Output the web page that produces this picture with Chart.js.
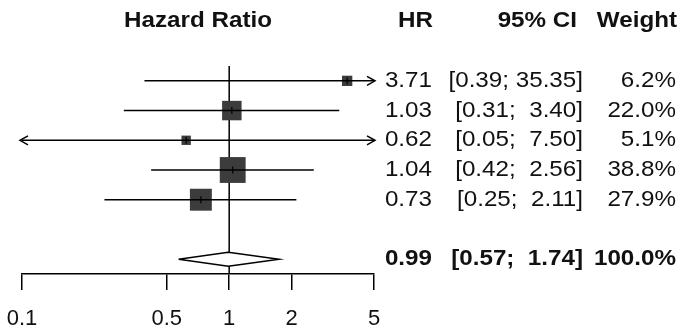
<!DOCTYPE html>
<html><head><meta charset="utf-8">
<script src="https://cdn.jsdelivr.net/npm/chart.js@4/dist/chart.umd.min.js"></script>
<style>html,body{margin:0;padding:0;background:#fff}#wrap{width:682px;height:329px}</style>
</head><body><div id="wrap"><canvas id="c" width="682" height="329"></canvas></div>
<script>
// ---- data ----
const rows = [1, 2, 3, 4, 5];
const hr = [3.71, 1.03, 0.62, 1.04, 0.73];
const ciLow = [0.39, 0.31, 0.05, 0.42, 0.25];
const ciHigh = [35.35, 3.40, 7.50, 2.56, 2.11];
const weights = [6.2, 22.0, 5.1, 38.8, 27.9];
const hrLabels = ['3.71', '1.03', '0.62', '1.04', '0.73'];
const ciLabels = ['[0.39; 35.35]', '[0.31;  3.40]', '[0.05;  7.50]', '[0.42;  2.56]', '[0.25;  2.11]'];
const weightLabels = ['6.2%', '22.0%', '5.1%', '38.8%', '27.9%'];
const summaryRow = 7;
const summaryHR = 0.99, summaryLow = 0.57, summaryHigh = 1.74;
const summaryLabels = ['0.99', '[0.57;  1.74]', '100.0%'];
const headers = ['Hazard Ratio', 'HR', '95% CI', 'Weight'];
const xTicks = [0.1, 0.5, 1, 2, 5];
const xMin = 0.1, xMax = 5;

// ---- styles ----
const FONT = '"Liberation Sans", Arial, sans-serif';
const TXT = '#111';
const LW = 1.5;
const SX = 1.1; // horizontal text stretch of the reference

const datasets = [];
// diamond (drawn on top)
const dh = 0.235;
datasets.push({
  data: [{x: summaryLow, y: summaryRow}, {x: summaryHR, y: summaryRow - dh}, {x: summaryHigh, y: summaryRow},
         {x: summaryHR, y: summaryRow + dh}, {x: summaryLow, y: summaryRow}],
  showLine: true, fill: 'shape', backgroundColor: '#fff', borderColor: '#000', borderWidth: LW,
  pointRadius: 0, tension: 0
});
// point estimate ticks
datasets.push({
  data: hr.map((v, i) => ({x: v, y: rows[i]})),
  pointStyle: 'line', rotation: 90, pointRadius: 3.5, borderColor: '#000', borderWidth: 1.2, showLine: false
});
// CI lines
hr.forEach((v, i) => {
  datasets.push({
    data: [{x: ciLow[i], y: rows[i]}, {x: ciHigh[i], y: rows[i]}],
    showLine: true, borderColor: '#000', borderWidth: LW, pointRadius: 0, fill: false
  });
});
// squares
datasets.push({
  data: hr.map((v, i) => ({x: v, y: rows[i]})),
  pointStyle: 'rect', pointRadius: weights.map(w => 4.15 * Math.sqrt(w) / Math.SQRT2),
  backgroundColor: '#3c3c3c', borderWidth: 0, showLine: false
});
// reference line at 1
datasets.push({
  data: [{x: 1, y: 0.5}, {x: 1, y: summaryRow + 0.5}],
  showLine: true, borderColor: '#000', borderWidth: LW, pointRadius: 0, fill: false
});

function drawText(ctx, str, x, y, align) {
  ctx.save();
  ctx.translate(x, y);
  ctx.scale(SX, 1);
  ctx.textAlign = align;
  ctx.fillText(str, 0, 0);
  ctx.restore();
}

const forestPlugin = {
  id: 'forest',
  afterDatasetsDraw(chart) {
    const ctx = chart.ctx, xs = chart.scales.x, ys = chart.scales.y;
    ctx.save();
    ctx.strokeStyle = '#000'; ctx.lineWidth = LW;
    const arrow = (tipX, y, dir) => {
      ctx.beginPath();
      ctx.moveTo(tipX - dir * 8, y - 4.5);
      ctx.lineTo(tipX, y);
      ctx.lineTo(tipX - dir * 8, y + 4.5);
      ctx.stroke();
    };
    rows.forEach((r, i) => {
      const y = ys.getPixelForValue(r);
      if (ciHigh[i] > xMax) arrow(xs.getPixelForValue(xMax) + 1, y, 1);
      if (ciLow[i] < xMin) arrow(xs.getPixelForValue(xMin) - 2, y, -1);
    });
    ctx.restore();
  },
  afterDraw(chart) {
    const ctx = chart.ctx, xs = chart.scales.x, ys = chart.scales.y;
    ctx.save();
    ctx.fillStyle = TXT;
    ctx.textBaseline = 'middle';
    const colHR = 432, colCI = 583, colW = 676;
    const hy = 21;
    ctx.font = 'bold 22px ' + FONT;
    drawText(ctx, headers[0], (xs.left + xs.right) / 2, hy, 'center');
    drawText(ctx, headers[1], colHR + 1, hy, 'right');
    drawText(ctx, headers[2], colCI - 6, hy, 'right');
    drawText(ctx, headers[3], colW + 1, hy, 'right');
    ctx.font = '22px ' + FONT;
    rows.forEach((r, i) => {
      const y = ys.getPixelForValue(r);
      drawText(ctx, hrLabels[i], colHR, y, 'right');
      drawText(ctx, ciLabels[i], colCI, y, 'right');
      drawText(ctx, weightLabels[i], colW, y, 'right');
    });
    ctx.font = 'bold 22px ' + FONT;
    const sy = ys.getPixelForValue(summaryRow);
    drawText(ctx, summaryLabels[0], colHR, sy, 'right');
    drawText(ctx, summaryLabels[1], colCI, sy, 'right');
    drawText(ctx, summaryLabels[2], colW, sy, 'right');
    ctx.restore();
  }
};

new Chart(document.getElementById('c'), {
  type: 'scatter',
  data: {datasets},
  options: {
    responsive: false, animation: false, devicePixelRatio: 1,
    layout: {padding: {left: 22, right: 308, top: 66, bottom: 0}},
    plugins: {legend: {display: false}, tooltip: {enabled: false}},
    scales: {
      x: {
        type: 'logarithmic', min: xMin, max: xMax, position: 'bottom',
        afterBuildTicks: s => { s.ticks = xTicks.map(v => ({value: v})); },
        afterFit: s => { s.paddingLeft = 0; s.paddingRight = 0; s.height = 55; },
        ticks: {callback: v => String(v), font: {family: FONT, size: 22, lineHeight: 1}, color: TXT,
                maxRotation: 0, autoSkip: false, padding: 18},
        grid: {drawOnChartArea: false, drawTicks: true, tickLength: 16, color: '#000', lineWidth: LW},
        border: {display: true, color: '#000', width: LW}
      },
      y: {type: 'linear', reverse: true, min: 0.5, max: summaryRow + 0.5, display: false}
    }
  },
  plugins: [forestPlugin]
});
</script></body></html>
